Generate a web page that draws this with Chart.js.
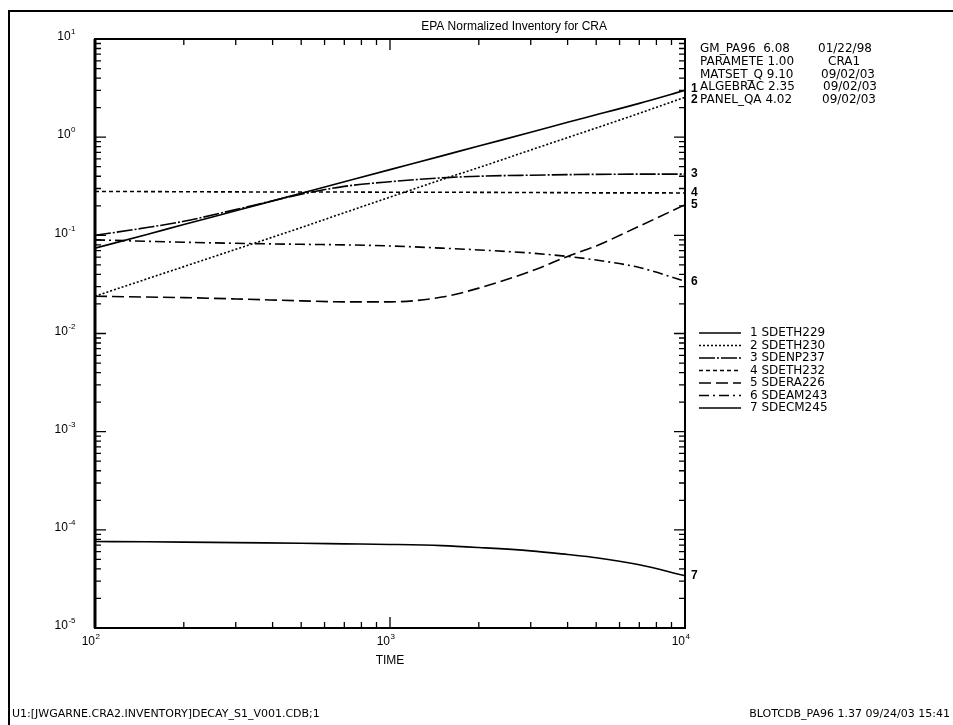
<!DOCTYPE html>
<html lang="en">
<head>
    <meta charset="UTF-8">
    <title>EPA Normalized Inventory for CRA</title>
    <script src="https://cdn.jsdelivr.net/npm/chart.js@4.4.0/dist/chart.umd.min.js"></script>
    <style>
        body { margin: 0; background: #fff; }
        canvas { display: block; }
    </style>
</head>
<body>
    <canvas id="inventoryChart" width="953" height="725"></canvas>

    <script>
        // Valeurs
        const timeValues = [100, 150, 200, 300, 500, 700, 1000, 1500, 2000, 3000, 4000, 5000, 7000, 10000];
        const seriesNames = ['SDETH229', 'SDETH230', 'SDENP237', 'SDETH232', 'SDERA226', 'SDEAM243', 'SDECM245'];
        const sdeth229 = [0.074, 0.102, 0.129, 0.178, 0.268, 0.351, 0.467, 0.645, 0.813, 1.12, 1.42, 1.69, 2.21, 3.0];
        const sdeth230 = [0.024, 0.036, 0.048, 0.072, 0.12, 0.17, 0.245, 0.37, 0.49, 0.74, 0.99, 1.24, 1.75, 2.55];
        const sdenp237 = [0.100, 0.120, 0.139, 0.183, 0.262, 0.315, 0.352, 0.385, 0.400, 0.410, 0.415, 0.418, 0.420, 0.420];
        const sdeth232 = [0.280, 0.279, 0.278, 0.277, 0.276, 0.276, 0.275, 0.275, 0.274, 0.273, 0.272, 0.271, 0.271, 0.270];
        const sdera226 = [0.024, 0.0235, 0.0232, 0.0225, 0.0215, 0.021, 0.021, 0.0235, 0.029, 0.043, 0.061, 0.078, 0.124, 0.205];
        const sdeam243 = [0.090, 0.087, 0.085, 0.083, 0.081, 0.080, 0.078, 0.074, 0.071, 0.066, 0.061, 0.056, 0.047, 0.034];
        const sdecm245 = [7.6e-5, 7.55e-5, 7.5e-5, 7.4e-5, 7.3e-5, 7.2e-5, 7.1e-5, 6.9e-5, 6.6e-5, 6.1e-5, 5.6e-5, 5.2e-5, 4.4e-5, 3.4e-5];
        const xDecades = [2, 3, 4];
        const yDecades = [1, 0, -1, -2, -3, -4, -5];

        const allSeries = [sdeth229, sdeth230, sdenp237, sdeth232, sdera226, sdeam243, sdecm245];
        const dashes = [[], [2, 2], [16, 2, 2, 2], [4, 3], [12, 5], [10, 4, 2, 4], []];

        const FONT = '"Liberation Sans", Arial, sans-serif';
        const WIDE = '"DejaVu Sans", sans-serif';

        function toPoints(values) {
            return timeValues.map((t, i) => ({ x: t, y: values[i] }));
        }

        // Texte avec exposant (10^n)
        function drawPower(ctx, exp, x, y, align) {
            const base = '10';
            const sup = String(exp);
            ctx.font = '12px ' + FONT;
            const wBase = ctx.measureText(base).width;
            ctx.font = '8px ' + FONT;
            const wSup = ctx.measureText(sup).width;
            let left = x;
            if (align === 'right') left = x - wBase - wSup;
            if (align === 'center') left = x - wBase;
            ctx.textBaseline = 'middle';
            ctx.textAlign = 'left';
            ctx.font = '12px ' + FONT;
            ctx.fillText(base, left, y);
            ctx.font = '8px ' + FONT;
            ctx.fillText(sup, left + wBase + 0.5, y - 5);
        }

        const decorPlugin = {
            id: 'decor',
            afterDraw(chart) {
                const ctx = chart.ctx;
                const area = chart.chartArea;
                const xs = chart.scales.x;
                const ys = chart.scales.y;
                ctx.save();
                ctx.fillStyle = '#000';
                ctx.strokeStyle = '#000';

                // Cadre extérieur
                ctx.lineWidth = 2;
                ctx.beginPath();
                ctx.moveTo(9, 725);
                ctx.lineTo(9, 11);
                ctx.lineTo(953, 11);
                ctx.stroke();

                // Boîte du graphique
                ctx.lineWidth = 2;
                ctx.strokeRect(area.left, area.top, area.right - area.left, area.bottom - area.top);
                ctx.lineWidth = 3;
                ctx.beginPath();
                ctx.moveTo(area.left, area.top);
                ctx.lineTo(area.left, area.bottom);
                ctx.stroke();

                // Graduations vers l'intérieur
                ctx.lineWidth = 1.3;
                ctx.beginPath();
                for (let d = -5; d <= 1; d++) {
                    for (let m = 1; m <= 9; m++) {
                        const v = m * Math.pow(10, d);
                        if (d === 1 && m > 1) continue;
                        const py = ys.getPixelForValue(v);
                        const len = m === 1 ? 11 : 6;
                        ctx.moveTo(area.left, py); ctx.lineTo(area.left + len, py);
                        ctx.moveTo(area.right, py); ctx.lineTo(area.right - len, py);
                    }
                }
                for (let d = 2; d <= 4; d++) {
                    for (let m = 1; m <= 9; m++) {
                        const v = m * Math.pow(10, d);
                        if (d === 4 && m > 1) continue;
                        const px = xs.getPixelForValue(v);
                        const len = m === 1 ? 11 : 6;
                        ctx.moveTo(px, area.bottom); ctx.lineTo(px, area.bottom - len);
                        ctx.moveTo(px, area.top); ctx.lineTo(px, area.top + len);
                    }
                }
                ctx.stroke();

                // Étiquettes des axes
                yDecades.forEach(d => {
                    drawPower(ctx, d, 75, ys.getPixelForValue(Math.pow(10, d)) - 2, 'right');
                });
                xDecades.forEach(d => {
                    drawPower(ctx, d, xs.getPixelForValue(Math.pow(10, d)), area.bottom + 14, 'center');
                });
                ctx.font = '12px ' + FONT;
                ctx.textAlign = 'center';
                ctx.textBaseline = 'middle';
                ctx.fillText('TIME', (area.left + area.right) / 2, area.bottom + 33);

                // Titre
                ctx.textAlign = 'right';
                ctx.fillText('EPA Normalized Inventory for CRA', 607, 27);

                // Bloc d'information
                const infoLeft = ['GM_PA96  6.08', 'PARAMETE 1.00', 'MATSET_Q 9.10', 'ALGEBRAC 2.35', 'PANEL_QA 4.02'];
                const infoRight = ['01/22/98', 'CRA1', '09/02/03', '09/02/03', '09/02/03'];
                const infoRightX = [818, 828, 821, 823, 822];
                ctx.font = '12px ' + WIDE;
                ctx.textAlign = 'left';
                infoLeft.forEach((t, i) => {
                    const y = 49 + i * 12.7;
                    ctx.fillText(t, 700, y);
                    ctx.fillText(infoRight[i], infoRightX[i], y);
                });

                // Numéros en bout de courbe
                const ends = chart.data.datasets.map((ds, i) => {
                    const meta = chart.getDatasetMeta(i);
                    return { n: String(i + 1), y: meta.data[meta.data.length - 1].y };
                });
                for (let i = 1; i < ends.length; i++) {
                    const gap = ends[i].y - ends[i - 1].y;
                    if (gap < 11) {
                        const mid = (ends[i].y + ends[i - 1].y) / 2;
                        ends[i - 1].y = mid - 5.5;
                        ends[i].y = mid + 5.5;
                    }
                }
                ctx.font = 'bold 12px ' + FONT;
                ends.forEach(e => ctx.fillText(e.n, area.right + 6, e.y));

                // Légende
                ctx.font = '12px ' + WIDE;
                chart.data.datasets.forEach((ds, i) => {
                    const y = 333 + i * 12.5;
                    ctx.lineWidth = 1.5;
                    ctx.setLineDash(ds.borderDash);
                    ctx.beginPath();
                    ctx.moveTo(699, y);
                    ctx.lineTo(741, y);
                    ctx.stroke();
                    ctx.setLineDash([]);
                    ctx.fillText((i + 1) + ' ' + ds.label, 750, y);
                });

                // Pied de page
                ctx.font = '11px ' + WIDE;
                ctx.textAlign = 'left';
                ctx.fillText('U1:[JWGARNE.CRA2.INVENTORY]DECAY_S1_V001.CDB;1', 12, 714);
                ctx.textAlign = 'right';
                ctx.fillText('BLOTCDB_PA96 1.37 09/24/03 15:41', 950, 714);

                ctx.restore();
            }
        };

        const datasets = allSeries.map((values, i) => ({
            label: seriesNames[i],
            data: toPoints(values),
            borderColor: '#000',
            borderWidth: 1.6,
            borderDash: dashes[i],
            pointRadius: 0,
            fill: false,
            cubicInterpolationMode: 'monotone'
        }));

        new Chart(document.getElementById('inventoryChart').getContext('2d'), {
            type: 'line',
            data: { datasets: datasets },
            options: {
                responsive: false,
                animation: false,
                devicePixelRatio: 1,
                layout: { padding: { left: 95, top: 39, right: 268, bottom: 97 } },
                plugins: { legend: { display: false }, tooltip: { enabled: false } },
                scales: {
                    x: { type: 'logarithmic', min: 100, max: 10000, display: false },
                    y: { type: 'logarithmic', min: 1e-5, max: 10, display: false }
                }
            },
            plugins: [decorPlugin]
        });
    </script>
</body>
</html>
